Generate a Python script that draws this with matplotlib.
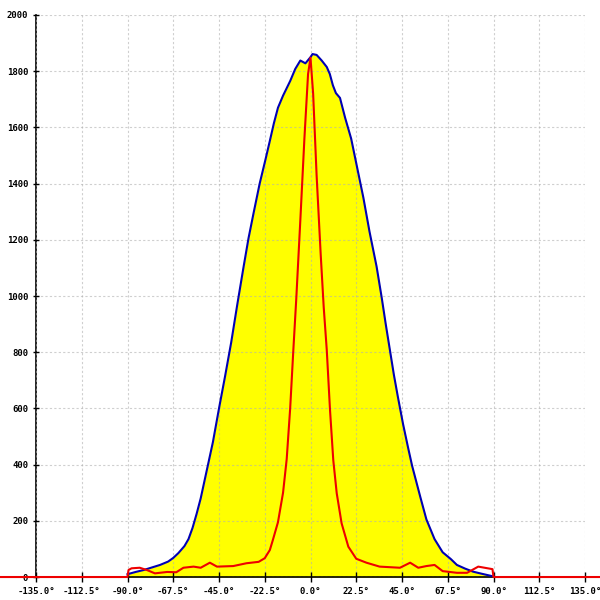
import matplotlib
matplotlib.use("Agg")
import matplotlib.pyplot as plt
import numpy as np

# envelope (blue outline, yellow fill)
blue_x = [-90, -86, -82, -78, -74, -70, -67.5, -65, -62, -60, -58, -56, -54, -51, -48, -45,
          -42, -39, -36, -33, -30.5, -28, -25, -22, -20, -18, -16, -13.5, -10, -7.5,
          -5, -2.5, 0, 1, 3, 5.5, 8, 9.5, 11, 12.5, 14.5, 17, 20, 23, 26, 29, 32.5,
          35, 37, 39, 41, 43, 45.5, 48, 50, 54, 57, 61, 65, 69, 72, 76, 80, 84, 87, 90]
blue_y = [10, 18, 25, 34, 43, 55, 68, 85, 110, 135, 175, 225, 280, 380, 480, 600,
          715, 835, 970, 1100, 1205, 1295, 1400, 1490, 1552, 1615, 1670, 1713, 1765, 1808,
          1838, 1828, 1850, 1861, 1858, 1838, 1815, 1790, 1750, 1722, 1705, 1635, 1560, 1455, 1350, 1230, 1105,
          995, 900, 810, 720, 640, 545, 460, 395, 285, 205, 135, 88, 64, 43, 30, 19, 12, 7, 2]

# narrow peak (red)
red_x = [-180, -90, -89.5, -88, -84, -80.5, -76.5, -70.5, -66, -62.5, -57.5, -54, -49.5,
         -46, -38, -31.5, -25.5, -22.5, -20, -18.5, -16, -13.5, -11.7, -10, -8.5, -7,
         -5, -3, -1.2, 0, 1.3, 3, 5, 6.5, 8, 9.6, 11.2, 12.9, 15.3, 18.6, 22.5, 27.5,
         34, 44, 49, 53, 57, 61, 65, 72, 77, 82.5, 89.5, 90, 180]
red_y = [0, 0, 25, 31, 33, 25, 13, 18, 17, 33, 37, 33, 51,
         37, 39, 49, 54, 67, 96, 132, 195, 300, 420, 600, 800, 990,
         1270, 1560, 1790, 1848, 1720, 1430, 1150, 960, 808, 594, 416, 298, 191, 108, 65, 51,
         37, 33, 51, 33, 39, 43, 21, 15, 15, 37, 28, 0, 0]

x_ticks = np.arange(-135, 135.1, 22.5)
y_ticks = np.arange(0, 2001, 200)

fig = plt.figure(figsize=(6, 6), dpi=100)
ax = fig.add_axes([0.06, 0.0383, 0.915, 0.9367])

ax.fill_between(blue_x, blue_y, 0, color="#ffff00", lw=0, zorder=1)
ax.plot(blue_x, blue_y, color="#0000b4", lw=1.5, zorder=3)
ax.plot(red_x, red_y, color="#ee0000", lw=1.5, zorder=4, clip_on=False)

ax.set_xlim(-135, 135)
ax.set_ylim(0, 2000)
ax.set_xticks(x_ticks)
ax.set_xticklabels([f"{v:.1f}\u00b0" for v in x_ticks])
ax.set_yticks(y_ticks)
ax.set_yticklabels([str(int(v)) for v in y_ticks])

ax.set_axisbelow(False)
ax.grid(True, color="#b0b0b0", linestyle=(0, (2, 2)), lw=0.8, alpha=0.6)

for s in ["top", "right"]:
    ax.spines[s].set_visible(False)
ax.spines["left"].set_linewidth(1.2)
ax.spines["bottom"].set_linewidth(1.2)

ax.tick_params(axis="x", direction="inout", length=7, width=1, pad=4)
ax.tick_params(axis="y", direction="inout", length=5, width=1, pad=3)
for lab in ax.get_xticklabels() + ax.get_yticklabels():
    lab.set_fontfamily("DejaVu Sans Mono")
    lab.set_fontsize(6.5)
    lab.set_fontweight("bold")

fig.savefig("out.png", dpi=100)
